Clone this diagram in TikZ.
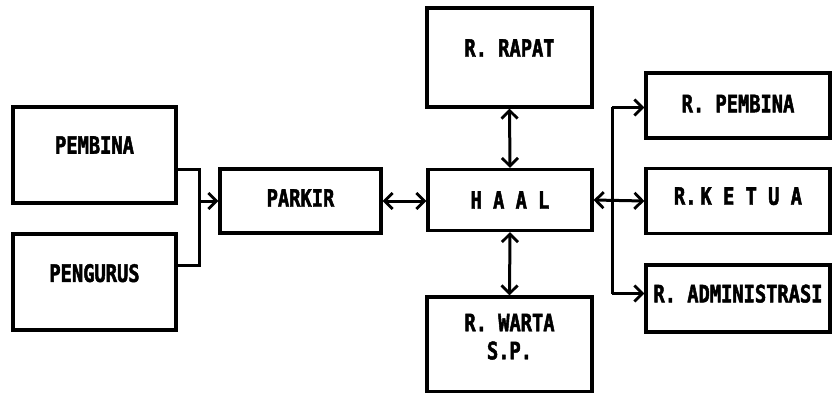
\documentclass[tikz,border=0pt]{standalone}
\usepackage{fontspec}
\usepackage{tikz}
\usetikzlibrary{arrows.meta}
\newfontfamily\boxfont{DejaVu Sans Mono}[FakeStretch=0.78,FakeBold=2]

\begin{document}
\begin{tikzpicture}[x=1pt,y=-1pt,
    room/.style={draw,line width=3.2pt,inner sep=0pt,align=center,
        font=\boxfont\bfseries\fontsize{24}{28}\selectfont},
    lift/.style={text depth=#1},
    line/.style={line width=3pt},
    arr/.style={line,-{Straight Barb[length=8pt,width=16pt,line width=2.8pt]}},
    dbl/.style={line,{Straight Barb[length=8pt,width=16pt,line width=2.8pt]}-{Straight Barb[length=8pt,width=16pt,line width=2.8pt]}}]
    \useasboundingbox (0,0) rectangle (833,393);
    \node[room,lift=20pt,minimum width=163pt,minimum height=96pt] (pembina) at (94.5,155) {PEMBINA};
    \node[room,lift=18pt,minimum width=163pt,minimum height=96pt] (pengurus) at (94.5,282) {PENGURUS};
    \node[room,lift=6pt,minimum width=161pt,minimum height=64pt] (parkir) at (300.5,201) {PARKIR};
    \node[room,lift=19pt,minimum width=165pt,minimum height=99pt] (rapat) at (509.5,57.5) {R. RAPAT};
    \node[room,minimum width=164pt,minimum height=61pt] (haal) at (510,200) {H A A L};
    \node[room,lift=16pt,minimum width=165pt,minimum height=95pt] (warta) at (509.5,344.5) {R. WARTA\\S.P.};
    \node[room,lift=4pt,minimum width=184pt,minimum height=65pt] (rpembina) at (738,105.5) {R. PEMBINA};
    \node[room,lift=10pt,minimum width=184pt,minimum height=65pt] (ketua) at (738,201) {R.\,K E T U A};
    \node[room,lift=10pt,minimum width=184pt,minimum height=67pt] (admin) at (738,298.5) {R. ADMINISTRASI};
    \coordinate (j1) at (199,201);
    \coordinate (j2) at (612,201);
    \draw[line] ([yshift=-15pt]pembina.east) -| (j1) |- ([yshift=17pt]pengurus.east);
    \draw[arr] (j1) -- (parkir.west);
    \draw[dbl] (parkir.east) -- (haal.west |- parkir.east);
    \draw[dbl] (rapat.south) -- (haal.north);
    \draw[dbl] (haal.south) -- (warta.north);
    \draw[dbl] (haal.east) -- (ketua.west);
    \draw[line] ([yshift=-2pt]rpembina.west -| j2) -- ([yshift=5pt]admin.west -| j2);
    \draw[arr] ([yshift=-2pt]rpembina.west -| j2) -- ([yshift=-2pt]rpembina.west);
    \draw[arr] ([yshift=5pt]admin.west -| j2) -- ([yshift=5pt]admin.west);
\end{tikzpicture}
\end{document}
